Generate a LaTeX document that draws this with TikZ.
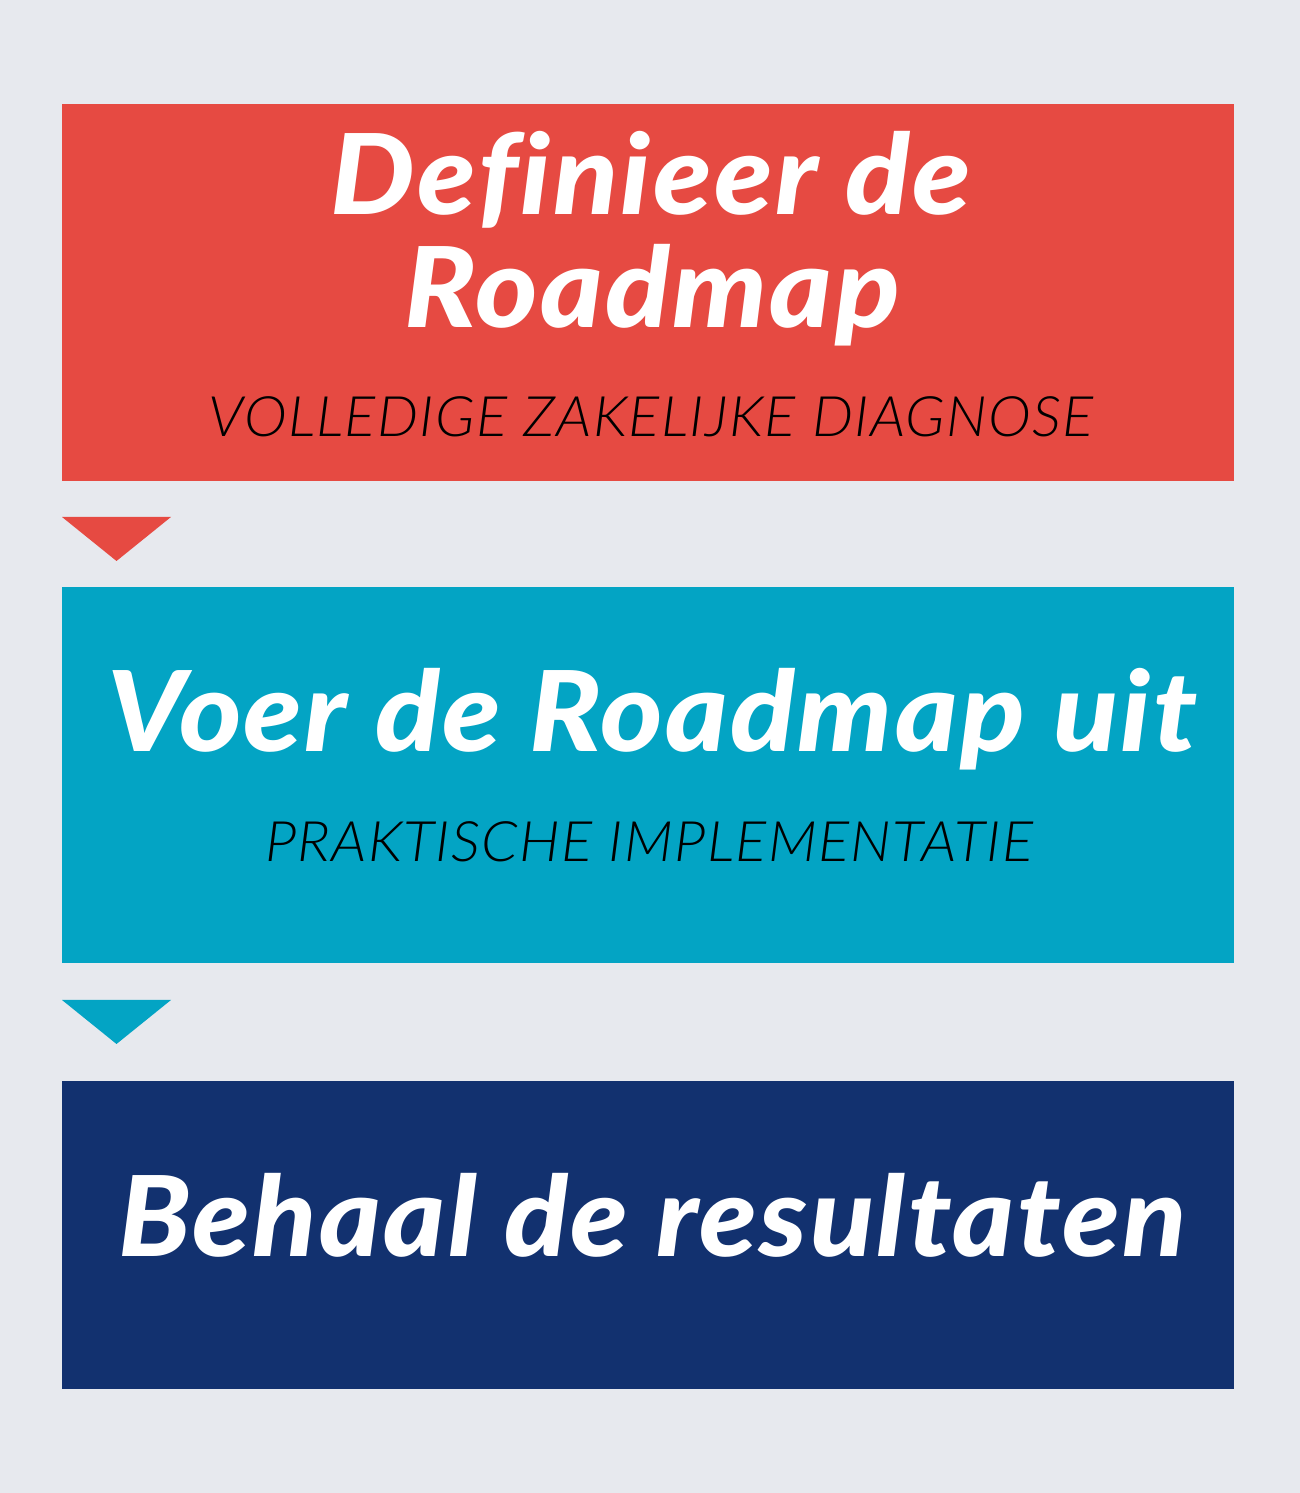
\documentclass[tikz,border=0pt]{standalone}
\usepackage{fontspec}
\setmainfont{Lato}
\newfontfamily\titlefont{Lato}[ItalicFont={* Black Italic},BoldItalicFont={* Black Italic},LetterSpace=2.0,Ligatures=NoCommon]
\newfontfamily\subfont{Lato}[ItalicFont={* Light Italic},LetterSpace=2.2]
\definecolor{bgc}{HTML}{E7E9EE}
\definecolor{redc}{HTML}{E64A42}
\definecolor{tealc}{HTML}{03A4C4}
\definecolor{navyc}{HTML}{12316F}
\tikzset{
  panel/.style={fill=#1, draw=none},
  title/.style={anchor=base, text=white, font=\titlefont\itshape\fontsize{112}{112}\selectfont, inner sep=0pt, xscale=1.07, transform shape},
  sub/.style={anchor=base, text=black, font=\subfont\itshape\fontsize{56}{56}\selectfont, inner sep=0pt, xscale=1.04, transform shape},
  tri/.style={fill=#1, draw=none}
}
\begin{document}
\begin{tikzpicture}[x=1bp,y=1bp]
\fill[bgc] (0,0) rectangle (1300,1493);
\useasboundingbox (0,0) rectangle (1300,1493);
% boxes (y = 1493 - px)
\fill[panel=redc] (62,1389) rectangle (1234,1012);
\fill[panel=tealc] (62,906) rectangle (1234,530);
\fill[panel=navyc] (62,412) rectangle (1234,104);
% triangles
\coordinate (t1a) at (62,976); \coordinate (t1b) at (171,976); \coordinate (t1c) at (116.5,932);
\fill[tri=redc] (t1a) -- (t1b) -- (t1c) -- cycle;
\coordinate (t2a) at (62,493); \coordinate (t2b) at (171,493); \coordinate (t2c) at (116.5,449);
\fill[tri=tealc] (t2a) -- (t2b) -- (t2c) -- cycle;
% texts
\node[title] (a1) at (651,1278) {Definieer de};
\node[title] (a2) at (652,1165) {Roadmap};
\node[sub] (a3) at (651,1056) {VOLLEDIGE ZAKELIJKE DIAGNOSE};
\node[title] (b1) at (652,741) {Voer de Roadmap uit};
\node[sub] (b2) at (649,631) {PRAKTISCHE IMPLEMENTATIE};
\node[title, xscale=0.987] (c1) at (652,236) {Behaal de resultaten};
\end{tikzpicture}
\end{document}
